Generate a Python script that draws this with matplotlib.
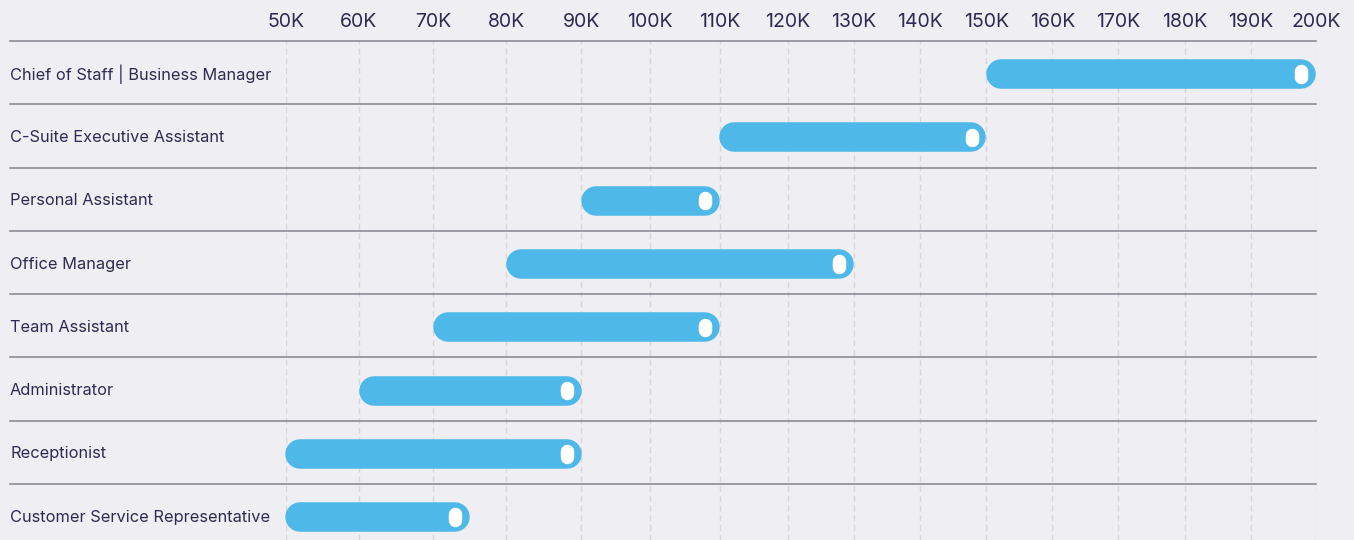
import numpy as np
import matplotlib
matplotlib.use("Agg")
import matplotlib.pyplot as plt
from matplotlib.transforms import IdentityTransform, ScaledTranslation

# ---- data ----
categories = [
    "Chief of Staff | Business Manager",
    "C-Suite Executive Assistant",
    "Personal Assistant",
    "Office Manager",
    "Team Assistant",
    "Administrator",
    "Receptionist",
    "Customer Service Representative",
]
salary_low = [150, 110, 90, 80, 70, 60, 50, 50]     # thousands
salary_high = [200, 150, 110, 130, 110, 90, 90, 75]  # thousands
tick_values = [50, 60, 70, 80, 90, 100, 110, 120, 130, 140, 150, 160, 170, 180, 190, 200]
tick_labels = [f"{v}K" for v in tick_values]

# ---- style / layout ----
W, H, DPI = 1354, 540, 100
BG = "#EFEEF3"
BLUE = "#4EB9E8"
TEXT = "#2D2B50"
SEP = "#85848E"
GRID = "#D6D5DC"
FONT = ["Inter", "DejaVu Sans"]
# pixel positions of the tick columns (uneven, as in the reference layout)
tick_px = [285.7, 358.9, 432.9, 506.4, 581.4, 650.0, 719.6, 787.5,
           853.7, 920.1, 986.2, 1052.3, 1118.4, 1184.5, 1250.5, 1315.9]
top_px = 41.0
row_h = (484.0 - 41.0) / 7
label_px = 10.0
bar_h = 29.5
knob_w, knob_h = 13.5, 19.0
row_shift_px = 1.5   # bars/labels sit slightly below row centre

tv = np.array(tick_values, float)
tp = np.array(tick_px, float)
s0 = (tp[1] - tp[0]) / (tv[1] - tv[0])
s1 = (tp[-1] - tp[-2]) / (tv[-1] - tv[-2])


def fwd(x):
    x = np.asarray(x, float)
    y = np.interp(x, tv, tp)
    y = np.where(x < tv[0], tp[0] + (x - tv[0]) * s0, y)
    y = np.where(x > tv[-1], tp[-1] + (x - tv[-1]) * s1, y)
    return y


def inv(y):
    y = np.asarray(y, float)
    x = np.interp(y, tp, tv)
    x = np.where(y < tp[0], tv[0] + (y - tp[0]) / s0, x)
    x = np.where(y > tp[-1], tv[-1] + (y - tp[-1]) / s1, x)
    return x


plt.rcParams["font.family"] = FONT
fig = plt.figure(figsize=(W / DPI, H / DPI), dpi=DPI, facecolor=BG)
ax_left = tp[0] / W
ax_w = (tp[-1] - tp[0]) / W
ax_top = 1 - top_px / H
ax = fig.add_axes([ax_left, 0, ax_w, ax_top])
ax.set_facecolor(BG)

ax.set_xscale("function", functions=(fwd, inv))
ax.set_xlim(tick_values[0], tick_values[-1])
n = len(categories)
y_bottom = (H - top_px) / row_h - 0.5
ax.set_ylim(y_bottom, -0.5)
ax.set_autoscale_on(False)

for s in ax.spines.values():
    s.set_visible(False)

ax.xaxis.tick_top()
ax.set_xticks(tick_values)
ax.set_xticklabels(tick_labels, fontsize=14, color=TEXT)
ax.tick_params(axis="x", length=0, pad=7)
ax.set_yticks([])
ax.grid(axis="x", color=GRID, linestyle=(0, (4, 3)), linewidth=1)
ax.set_axisbelow(True)

# row separators, extending to the left under the labels
x_lab = (label_px - tp[0]) / (tp[-1] - tp[0])
ytr = ax.get_yaxis_transform()
for i in range(n):
    ax.plot([x_lab, 1], [i - 0.5, i - 0.5], transform=ytr, color=SEP,
            linewidth=1.1, clip_on=False, zorder=2)

# category labels
shift = ScaledTranslation(0, -row_shift_px / DPI, fig.dpi_scale_trans)
for i, c in enumerate(categories):
    ax.text(x_lab, i, c, transform=ytr + shift, ha="left", va="center",
            fontsize=11.8, color=TEXT, clip_on=False)

# capsule bars with knob (thick lines with round caps, in pixel space)
pt = 72.0 / DPI
ident = IdentityTransform()
for i, (lo, hi) in enumerate(zip(salary_low, salary_high)):
    x0, yc = ax.transData.transform((lo, i))
    x1, _ = ax.transData.transform((hi, i))
    yc -= row_shift_px
    r = bar_h / 2
    ax.plot([x0 + r, x1 - r], [yc, yc], transform=ident, color=BLUE,
            linewidth=bar_h * pt, solid_capstyle="round", zorder=3,
            clip_on=False)
    kx = x1 - 14.5
    kr = knob_w / 2
    ax.plot([kx, kx], [yc - knob_h / 2 + kr, yc + knob_h / 2 - kr],
            transform=ident, color="white", linewidth=knob_w * pt,
            solid_capstyle="round", zorder=4, clip_on=False)

fig.savefig("out.png", dpi=DPI, facecolor=BG)
